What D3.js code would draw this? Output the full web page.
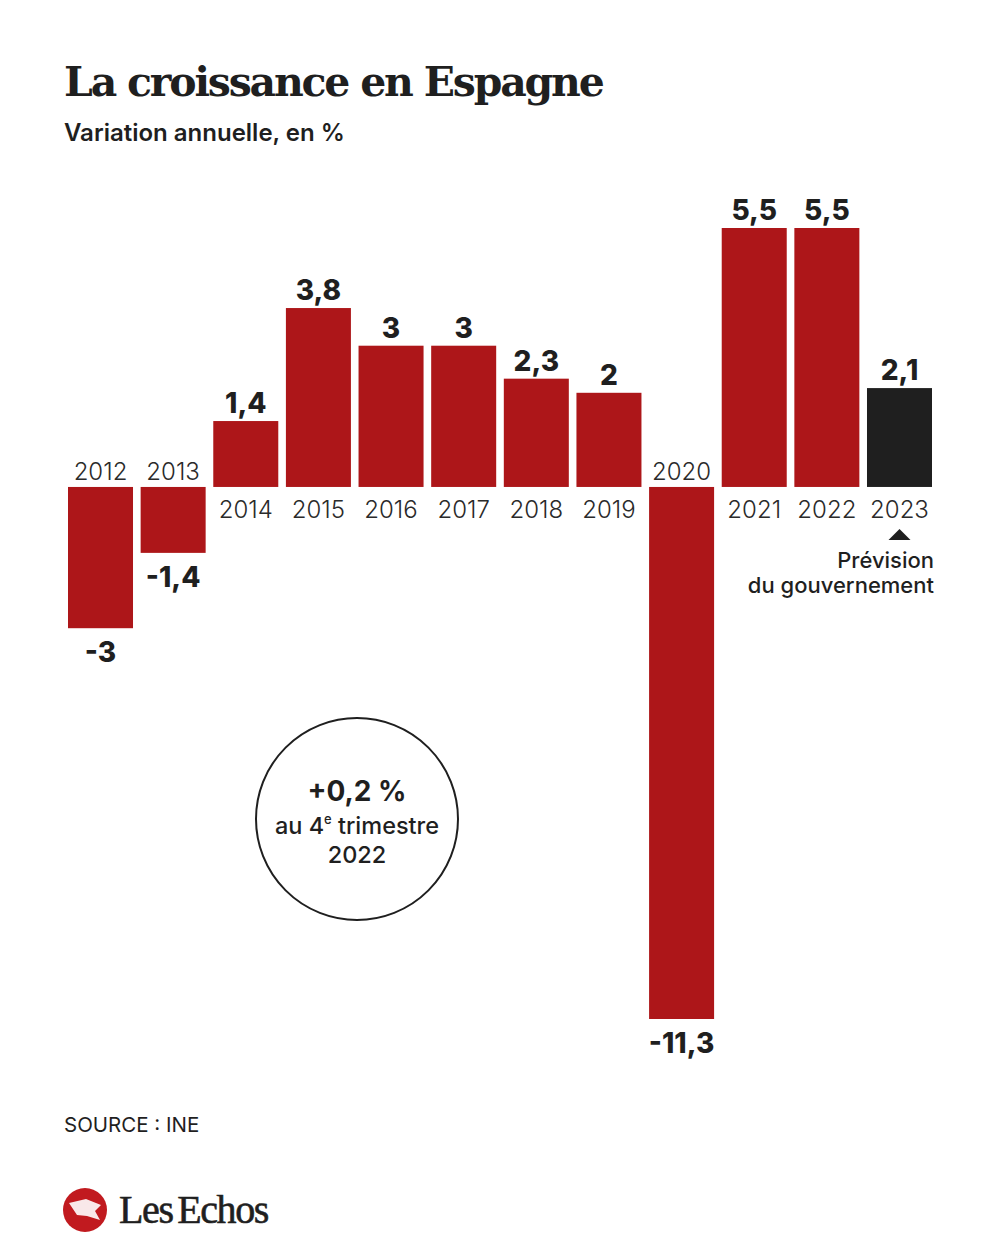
<!DOCTYPE html>
<html><head><meta charset="utf-8">
<script src="https://cdn.jsdelivr.net/npm/d3@7"></script>
<style>
body{margin:0;background:#fff;}
svg{display:block;}
</style></head>
<body>
<script>
const years = ["2012","2013","2014","2015","2016","2017","2018","2019","2020","2021","2022","2023"];
const values = [-3, -1.4, 1.4, 3.8, 3, 3, 2.3, 2, -11.3, 5.5, 5.5, 2.1];
const forecast = [false,false,false,false,false,false,false,false,false,false,false,true];
const title = "La croissance en Espagne";
const subtitle = "Variation annuelle, en %";
const source = "SOURCE : INE";

const W = 1000, H = 1250;
const svg = d3.select("body").append("svg").attr("width", W).attr("height", H);
svg.append("rect").attr("width", W).attr("height", H).attr("fill", "#fff");

const sans = "Inter, 'Noto Sans', Roboto, sans-serif";
const x = d3.scaleBand().domain(years).range([68, 932]).paddingInner(0.105).paddingOuter(0);
const y = d3.scaleLinear().domain([-11.3, 5.5]).range([1019, 228]);
const fmt = v => String(v).replace(".", ",");

svg.append("text").attr("x", 64).attr("y", 96).text(title)
  .attr("font-family", "'DejaVu Serif', serif").attr("font-weight", 700).attr("font-size", 41)
  .attr("fill", "#1f1f1f").attr("letter-spacing", -2.2);
svg.append("text").attr("x", 64).attr("y", 141).text(subtitle)
  .attr("font-family", sans).attr("font-weight", 600).attr("font-size", 24).attr("fill", "#1f1f1f");

const g = svg.append("g");
g.selectAll("rect.bar").data(years).join("rect").attr("class", "bar")
  .attr("x", d => x(d)).attr("width", x.bandwidth())
  .attr("y", (d, i) => Math.min(y(values[i]), y(0)))
  .attr("height", (d, i) => Math.abs(y(values[i]) - y(0)))
  .attr("fill", (d, i) => forecast[i] ? "#1f1f1f" : "#ad1619");

// value labels
g.selectAll("text.val").data(years).join("text").attr("class", "val")
  .attr("x", d => x(d) + x.bandwidth() / 2)
  .attr("y", (d, i) => values[i] >= 0 ? y(values[i]) - 8 : y(values[i]) + 34)
  .attr("text-anchor", "middle")
  .attr("font-family", sans).attr("font-weight", 800).attr("font-size", 28).attr("fill", "#1f1f1f")
  .text((d, i) => fmt(values[i]));

// year labels
g.selectAll("text.yr").data(years).join("text").attr("class", "yr")
  .attr("x", d => x(d) + x.bandwidth() / 2)
  .attr("y", (d, i) => values[i] >= 0 ? y(0) + 31 : y(0) - 7)
  .attr("text-anchor", "middle")
  .attr("font-family", sans).attr("font-weight", 300).attr("font-size", 24).attr("fill", "#2a2a2a")
  .text(d => d);

// forecast annotation
const fx = x("2023") + x.bandwidth() / 2;
g.append("path").attr("d", `M${fx-11},540 L${fx+11},540 L${fx},529 Z`).attr("fill", "#1f1f1f");
const ann = g.append("text").attr("text-anchor", "end")
  .attr("font-family", sans).attr("font-weight", 500).attr("font-size", 22).attr("fill", "#1f1f1f");
ann.append("tspan").attr("x", 934).attr("y", 568).text("Prévision");
ann.append("tspan").attr("x", 934).attr("y", 593).text("du gouvernement");

// circle callout
const cx = 357, cy = 819;
svg.append("circle").attr("cx", cx).attr("cy", cy).attr("r", 101)
  .attr("fill", "none").attr("stroke", "#1f1f1f").attr("stroke-width", 2);
svg.append("text").attr("x", cx).attr("y", 801).attr("text-anchor", "middle")
  .attr("font-family", sans).attr("font-weight", 700).attr("font-size", 28).attr("fill", "#1f1f1f")
  .text("+0,2 %");
const t2 = svg.append("text").attr("x", cx).attr("y", 834).attr("text-anchor", "middle")
  .attr("font-family", sans).attr("font-weight", 500).attr("font-size", 23.5).attr("fill", "#1f1f1f");
t2.append("tspan").text("au 4");
t2.append("tspan").attr("font-size", 13).attr("dy", -10).text("e");
t2.append("tspan").attr("dy", 10).text(" trimestre");
svg.append("text").attr("x", cx).attr("y", 863).attr("text-anchor", "middle")
  .attr("font-family", sans).attr("font-weight", 500).attr("font-size", 23.5).attr("fill", "#1f1f1f")
  .text("2022");

// source
svg.append("text").attr("x", 64).attr("y", 1132).text(source)
  .attr("font-family", sans).attr("font-weight", 400).attr("font-size", 20.5).attr("fill", "#1f1f1f");

// logo
svg.append("circle").attr("cx", 85).attr("cy", 1210).attr("r", 22).attr("fill", "#c11a1f");
svg.append("path").attr("d", "M69,1203 L86,1199 L101,1205 L95,1211 L100,1220 L87,1216 L77,1215 Z")
  .attr("fill", "#fff").attr("opacity", 0.9);
svg.append("text").attr("x", 119).attr("y", 1223).text("Les Echos")
  .attr("font-family", "'Liberation Serif', serif").attr("font-weight", 400).attr("font-size", 40)
  .attr("fill", "#1f1f1f").attr("stroke", "#1f1f1f").attr("stroke-width", 0.6)
  .attr("letter-spacing", -1.4).attr("word-spacing", -4);
</script>
</body></html>
